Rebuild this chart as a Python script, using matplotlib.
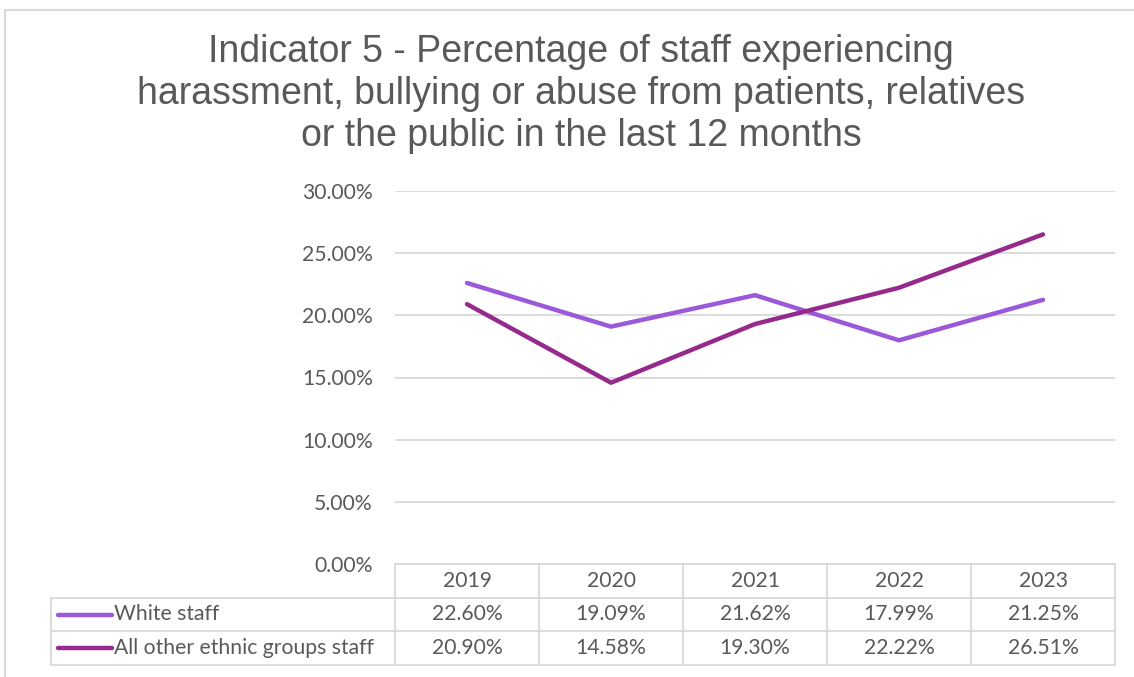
import numpy as np
import matplotlib.pyplot as plt
from matplotlib.patches import Rectangle
from matplotlib.lines import Line2D

# survey years and the two staff groups
years = ["2019", "2020", "2021", "2022", "2023"]
white_staff = [22.60, 19.09, 21.62, 17.99, 21.25]
other_staff = [20.90, 14.58, 19.30, 22.22, 26.51]
series_names = ["White staff", "All other ethnic groups staff"]
series_colors = ["#9B59D9", "#962A8C"]

W, H = 1134, 677
grey = "#595959"
line_grey = "#D9D9D9"
tick_font = "Lato"
fs = 15.2

fig = plt.figure(figsize=(W / 100, H / 100), dpi=100)

# outer chart frame
fig.patches.append(Rectangle((5 / W, -0.1), 1.2, 1 - 10 / H + 0.1, transform=fig.transFigure,
                             fill=False, edgecolor=line_grey, linewidth=1.5))

fig.text(581 / W, 1 - 94 / H,
         "Indicator 5 - Percentage of staff experiencing\n"
         "harassment, bullying or abuse from patients, relatives\n"
         "or the public in the last 12 months",
         ha="center", va="center", fontsize=27, color=grey,
         family="Liberation Sans", linespacing=1.22)

# main line chart
x0, x1 = 395, 1115
ytop, ybot = 191, 564
ax = fig.add_axes([x0 / W, 1 - ybot / H, (x1 - x0) / W, (ybot - ytop) / H])
xs = np.arange(len(years))
ax.plot(xs, np.array(white_staff) / 100, color=series_colors[0], lw=3.2, solid_capstyle="round")
ax.plot(xs, np.array(other_staff) / 100, color=series_colors[1], lw=3.2, solid_capstyle="round")
ax.set_xlim(-0.5, len(years) - 0.5)
ax.set_ylim(0, 0.30)
ax.set_yticks(np.arange(0, 0.301, 0.05))
ax.set_yticklabels(["%.2f%%" % (v * 100) for v in np.arange(0, 0.301, 0.05)],
                   fontsize=fs, color=grey, family=tick_font)
ax.tick_params(axis="y", length=0, pad=16)
ax.set_xticks([])
ax.grid(axis="y", color=line_grey, lw=1.3)
ax.set_axisbelow(True)
for s in ax.spines.values():
    s.set_visible(False)
ax.patch.set_alpha(0)

# data table under the chart, sharing the x scale of the plot
tl = 51
unit = (x1 - x0) / len(years)
tx_left = -0.5 - (x0 - tl) / unit
tb = 665
tax = fig.add_axes([tl / W, 1 - tb / H, (x1 - tl) / W, (tb - ybot) / H])
tax.set_xlim(tx_left, len(years) - 0.5)
tax.set_ylim(3, 0)
tax.axis("off")

lk = dict(color=line_grey, lw=1.3, clip_on=False)
# horizontal borders
tax.plot([-0.5, len(years) - 0.5], [0, 0], **lk)
for r in [1, 2, 3]:
    tax.plot([tx_left, len(years) - 0.5], [r, r], **lk)
# vertical borders
for c in range(len(years) + 1):
    tax.plot([c - 0.5, c - 0.5], [0, 3], **lk)
tax.plot([tx_left, tx_left], [1, 3], **lk)

for i, yr in enumerate(years):
    tax.text(i, 0.5, yr, ha="center", va="center", fontsize=fs, color=grey, family=tick_font)
for r, vals in enumerate([white_staff, other_staff]):
    for i, v in enumerate(vals):
        tax.text(i, r + 1.5, "%.2f%%" % v, ha="center", va="center", fontsize=fs,
                 color=grey, family=tick_font)
    kx0 = tx_left + 7 / unit
    kx1 = tx_left + 61 / unit
    tax.add_line(Line2D([kx0, kx1], [r + 1.5, r + 1.5], color=series_colors[r], lw=3.2,
                        solid_capstyle="round"))
    tax.text(kx1 + 2 / unit, r + 1.5, series_names[r], ha="left", va="center", fontsize=fs,
             color=grey, family=tick_font)

fig.savefig("out.png", dpi=100)
